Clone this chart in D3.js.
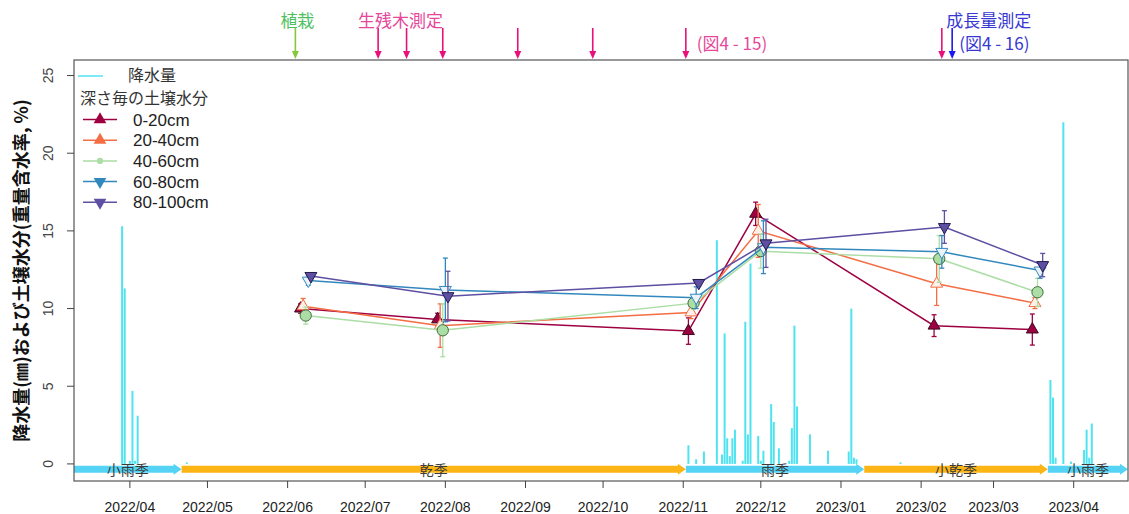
<!DOCTYPE html>
<html>
<head>
<meta charset="utf-8">
<script src="https://cdn.jsdelivr.net/npm/d3@7"></script>
<style>
  body { margin: 0; background: #fff; }
  svg { display: block; }
</style>
</head>
<body>
<svg id="chart" width="1129" height="514"></svg>
<script>
// ---- data ----
const depths = ["0-20cm", "20-40cm", "40-60cm", "60-80cm", "80-100cm"];
const depthShiftDays = [0, 1, 2, 3, 4];   // each depth plotted one day later than the previous
const sampleDates = ["2022-06-06", "2022-07-29", "2022-11-03", "2022-11-29", "2023-02-06", "2023-03-16"];

const moist0_20   = [10.0, 9.3, 8.55, 16.1, 8.9, 8.65];
const sd0_20      = [0.3, 0.4, 0.85, 0.75, 0.7, 1.0];
const moist20_40  = [10.15, 8.9, 9.75, 15.0, 11.6, 10.35];
const sd20_40     = [0.5, 1.4, 0.4, 1.7, 1.4, 0.35];
const moist40_60  = [9.55, 8.6, 10.35, 13.7, 13.2, 11.05];
const sd40_60     = [0.55, 1.7, 0.4, 1.1, 1.5, 0.9];
const moist60_80  = [11.8, 11.2, 10.7, 13.95, 13.65, 12.45];
const sd60_80     = [0.3, 2.05, 0.7, 1.7, 1.05, 0.5];
const moist80_100 = [12.1, 10.8, 11.65, 14.2, 15.25, 12.8];
const sd80_100    = [0.15, 1.6, 0.2, 1.55, 1.05, 0.75];

const rainDates = [
  "2022-03-29", "2022-03-30", "2022-04-01", "2022-04-02", "2022-04-03", "2022-04-04", "2022-04-23",
  "2022-11-03", "2022-11-06", "2022-11-09", "2022-11-14", "2022-11-16", "2022-11-17", "2022-11-18",
  "2022-11-19", "2022-11-20", "2022-11-21", "2022-11-24", "2022-11-25", "2022-11-26", "2022-11-27",
  "2022-11-30", "2022-12-01", "2022-12-02", "2022-12-05", "2022-12-06", "2022-12-08", "2022-12-12",
  "2022-12-13", "2022-12-14", "2022-12-15", "2022-12-20", "2022-12-27", "2023-01-04", "2023-01-05",
  "2023-01-06", "2023-01-07", "2023-01-24", "2023-03-23", "2023-03-24", "2023-03-25", "2023-03-28",
  "2023-03-31", "2023-04-05", "2023-04-06", "2023-04-07", "2023-04-08"
];
const rainMm = [
  15.3, 11.3, 0.2, 4.7, 0.2, 3.1, 0.1,
  1.2, 0.3, 0.8, 14.4, 0.6, 8.4, 1.65,
  0.5, 1.65, 2.2, 0.2, 9.15, 1.9, 12.9,
  1.8, 0.2, 0.85, 3.85, 2.7, 1.0, 0.2,
  2.3, 8.9, 3.7, 1.9, 0.85, 0.8, 10.0,
  0.4, 0.3, 0.1, 5.4, 4.27, 0.4, 22.0,
  0.15, 0.9, 2.2, 0.4, 2.6
];

const seasonNames = ["小雨季", "乾季", "雨季", "小乾季", "小雨季"];
const seasonStarts = ["2022-03-10", "2022-04-21", "2022-11-02", "2023-01-10", "2023-03-22"];
const seasonEnds   = ["2022-04-21", "2022-11-02", "2023-01-10", "2023-03-22", "2023-04-22"];

const plantDate = "2022-06-04";
const surveyDates = ["2022-07-06", "2022-07-17", "2022-07-31", "2022-08-29", "2022-09-27", "2022-11-02", "2023-02-09"];
const growthDate = "2023-02-13";

const yTicks = [0, 5, 10, 15, 20, 25];

// ---- layout ----
const parse = d3.utcParse("%Y-%m-%d");
const margin = { left: 74, top: 60, right: 1128, bottom: 481 };
const latin = "'Liberation Sans', Arial, sans-serif";
const cjk = "'Noto Sans CJK JP', 'Noto Sans', sans-serif";

const colors = ["#9E0142", "#F46D43", "#ABDDA4", "#3288BD", "#5E4FA2"];
const markerStyle = [
  { shape: d3.symbolTriangle, rot: 0,   fill: "#9E0142", stroke: "#3d0a1e", size: 62 },
  { shape: d3.symbolTriangle, rot: 0,   fill: "#fff1ea", stroke: "#F46D43", size: 62 },
  { shape: d3.symbolCircle,   rot: 0,   fill: "#ABDDA4", stroke: "#3f6e3c", size: 100 },
  { shape: d3.symbolTriangle, rot: 180, fill: "#eaf3fa", stroke: "#3288BD", size: 62 },
  { shape: d3.symbolTriangle, rot: 180, fill: "#5E4FA2", stroke: "#231a4d", size: 62 }
];
const rainColor = "#4FE3F0";
const pink = "#E8107A", pinkText = "#E5489A";
const blue = "#1A1AF0", blueText = "#3838D2";

const svg = d3.select("#chart");

const x = d3.scaleUtc()
  .domain([parse("2022-03-10"), parse("2023-04-22")])
  .range([73, 1128]);

const y = d3.scaleLinear()
  .domain([-1.1, 26])
  .range([margin.bottom, margin.top]);

function addDays(s, n) {
  return d3.utcDay.offset(parse(s), n);
}

// rainfall as thin vertical bars
svg.append("g")
  .selectAll("line")
  .data(rainDates.map((d, i) => ({ date: parse(d), v: rainMm[i] })))
  .join("line")
  .attr("x1", d => x(d.date)).attr("x2", d => x(d.date))
  .attr("y1", y(0)).attr("y2", d => y(d.v))
  .attr("stroke", rainColor)
  .attr("stroke-width", 2);

// season arrows along the bottom
function bandArrow(x0, x1, yc) {
  const h = 3.5, hh = 5.5, len = 8;
  return `M${x0},${yc - h}L${x1 - len},${yc - h}L${x1 - len},${yc - hh}L${x1},${yc}` +
         `L${x1 - len},${yc + hh}L${x1 - len},${yc + h}L${x0},${yc + h}Z`;
}
const seasonY = y(-0.35);
const seasons = seasonNames.map((n, i) => ({
  name: n, start: parse(seasonStarts[i]), end: parse(seasonEnds[i])
}));
const sg = svg.append("g");
sg.selectAll("path")
  .data(seasons)
  .join("path")
  .attr("d", d => bandArrow(Math.max(x(d.start), margin.left), x(d.end), seasonY))
  .attr("fill", d => d.name.includes("雨") ? "#55D3F5" : "#FDB515");
sg.selectAll("text")
  .data(seasons)
  .join("text")
  .attr("x", d => (Math.max(x(d.start), margin.left) + x(d.end)) / 2)
  .attr("y", seasonY + 6)
  .attr("text-anchor", "middle")
  .style("font-family", cjk)
  .style("font-size", "14px")
  .style("fill", "#3a3a3a")
  .text(d => d.name);

// soil moisture series
const allMoist = [moist0_20, moist20_40, moist40_60, moist60_80, moist80_100];
const allSd = [sd0_20, sd20_40, sd40_60, sd60_80, sd80_100];
const series = depths.map((name, i) => ({
  name: name,
  points: sampleDates.map((d, j) => ({
    date: addDays(d, depthShiftDays[i]), v: allMoist[i][j], sd: allSd[i][j]
  }))
}));

const line = d3.line()
  .x(d => x(d.date))
  .y(d => y(d.v));

series.forEach((s, i) => {
  const g = svg.append("g");
  g.append("path")
    .datum(s.points)
    .attr("fill", "none")
    .attr("stroke", colors[i])
    .attr("stroke-width", 1.5)
    .attr("d", line);

  // error bars
  const eb = g.selectAll("g.err")
    .data(s.points)
    .join("g")
    .attr("class", "err")
    .attr("stroke", colors[i])
    .attr("stroke-width", 1.3);
  eb.append("line")
    .attr("x1", d => x(d.date)).attr("x2", d => x(d.date))
    .attr("y1", d => y(d.v - d.sd)).attr("y2", d => y(d.v + d.sd));
  eb.append("line")
    .attr("x1", d => x(d.date) - 2.5).attr("x2", d => x(d.date) + 2.5)
    .attr("y1", d => y(d.v - d.sd)).attr("y2", d => y(d.v - d.sd));
  eb.append("line")
    .attr("x1", d => x(d.date) - 2.5).attr("x2", d => x(d.date) + 2.5)
    .attr("y1", d => y(d.v + d.sd)).attr("y2", d => y(d.v + d.sd));

  const m = markerStyle[i];
  g.selectAll("path.pt")
    .data(s.points)
    .join("path")
    .attr("class", "pt")
    .attr("d", d3.symbol().type(m.shape).size(m.size))
    .attr("transform", d => `translate(${x(d.date)},${y(d.v)}) rotate(${m.rot})`)
    .attr("fill", m.fill)
    .attr("stroke", m.stroke)
    .attr("stroke-width", 1);
});

// plot box
svg.append("rect")
  .attr("x", margin.left).attr("y", margin.top)
  .attr("width", margin.right - margin.left)
  .attr("height", margin.bottom - margin.top)
  .attr("fill", "none")
  .attr("stroke", "#555")
  .attr("stroke-width", 1.2);

// x axis
const xTicks = d3.utcMonth.range(parse("2022-04-01"), parse("2023-04-02"));
const xa = svg.append("g");
xa.selectAll("line")
  .data(xTicks)
  .join("line")
  .attr("x1", d => x(d)).attr("x2", d => x(d))
  .attr("y1", margin.bottom).attr("y2", margin.bottom + 7)
  .attr("stroke", "#444");
xa.selectAll("text")
  .data(xTicks)
  .join("text")
  .attr("x", d => x(d))
  .attr("y", 512)
  .attr("text-anchor", "middle")
  .style("font-family", latin)
  .style("font-size", "14px")
  .style("fill", "#222")
  .text(d3.utcFormat("%Y/%m"));

// y axis
const ya = svg.append("g");
ya.selectAll("line")
  .data(yTicks)
  .join("line")
  .attr("x1", margin.left - 7).attr("x2", margin.left)
  .attr("y1", d => y(d)).attr("y2", d => y(d))
  .attr("stroke", "#444");
ya.selectAll("text")
  .data(yTicks)
  .join("text")
  .attr("transform", d => `translate(53,${y(d)}) rotate(-90)`)
  .attr("text-anchor", "middle")
  .style("font-family", latin)
  .style("font-size", "14px")
  .style("fill", "#444")
  .text(d => d);

svg.append("text")
  .attr("transform", `translate(28,${(margin.top + margin.bottom) / 2}) rotate(-90)`)
  .attr("text-anchor", "middle")
  .style("font-family", cjk)
  .style("font-size", "18px")
  .style("font-weight", "bold")
  .style("fill", "#111")
  .text("降水量(㎜)および土壌水分(重量含水率, %)");

// legend
const lg = svg.append("g");
lg.append("line")
  .attr("x1", 78).attr("x2", 103).attr("y1", 76).attr("y2", 76)
  .attr("stroke", rainColor).attr("stroke-width", 1.5);
lg.append("text")
  .attr("x", 128).attr("y", 81)
  .style("font-family", cjk).style("font-size", "16px").style("fill", "#333")
  .text("降水量");
lg.append("text")
  .attr("x", 80).attr("y", 104)
  .style("font-family", cjk).style("font-size", "16px").style("fill", "#333")
  .text("深さ毎の土壌水分");

depths.forEach((name, i) => {
  const ly = 119.5 + i * 20.7;
  lg.append("line")
    .attr("x1", 83).attr("x2", 117).attr("y1", ly).attr("y2", ly)
    .attr("stroke", colors[i]).attr("stroke-width", 1.5);
  const m = markerStyle[i];
  lg.append("path")
    .attr("d", d3.symbol().type(m.shape).size(i === 2 ? 30 : 70))
    .attr("transform", `translate(100,${ly}) rotate(${m.rot})`)
    .attr("fill", colors[i]);
  lg.append("text")
    .attr("x", 133).attr("y", ly + 6)
    .style("font-family", latin).style("font-size", "17px").style("fill", "#222")
    .text(name);
});

// event arrows above the plot
function downArrow(xp, color) {
  svg.append("line")
    .attr("x1", xp).attr("x2", xp).attr("y1", 28).attr("y2", 52)
    .attr("stroke", color).attr("stroke-width", 1.6);
  svg.append("path")
    .attr("d", `M${xp - 3.5},51L${xp + 3.5},51L${xp},59Z`)
    .attr("fill", color);
}

downArrow(x(parse(plantDate)), "#86C83A");
surveyDates.forEach(d => downArrow(x(parse(d)), pink));
downArrow(x(parse(growthDate)), blue);

function note(txt, xp, yp, anchor, color) {
  svg.append("text")
    .attr("x", xp).attr("y", yp)
    .attr("text-anchor", anchor)
    .style("font-family", cjk)
    .style("font-size", "17px")
    .style("fill", color)
    .text(txt);
}
note("植栽", x(parse(plantDate)) + 2, 27, "middle", "#4DBF62");
note("生残木測定", x(parse(surveyDates[0])) - 20, 27, "start", pinkText);
note("(図4 - 15)", x(parse(surveyDates[5])) + 11, 50, "start", pinkText);
note("成長量測定", x(parse(growthDate)) - 6, 27, "start", blueText);
note("(図4 - 16)", x(parse(growthDate)) + 7, 50, "start", blueText);
</script>
</body>
</html>
